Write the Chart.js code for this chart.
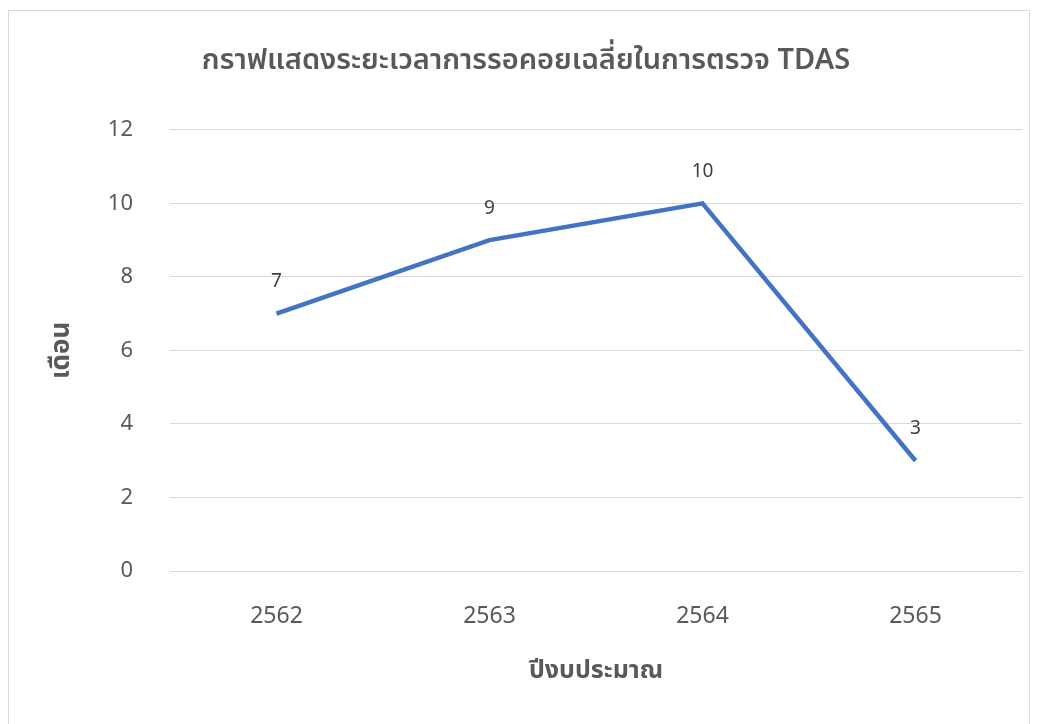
<!DOCTYPE html>
<html>
<head>
<meta charset="utf-8">
<script src="https://cdn.jsdelivr.net/npm/chart.js@4/dist/chart.umd.min.js"></script>
<style>
  html, body { margin: 0; padding: 0; background: #fff; }
  #wrap { position: relative; width: 1037px; height: 724px; }
</style>
</head>
<body>
<div id="wrap"><canvas id="waitChart" width="1037" height="724"></canvas></div>
<script>
// ข้อมูลกราฟ
const years = ['2562', '2563', '2564', '2565'];
const waitMonths = [7, 9, 10, 3];
const yTicks = [0, 2, 4, 6, 8, 10, 12];

const chartTitle = 'กราฟแสดงระยะเวลาการรอคอยเฉลี่ยในการตรวจ TDAS';
const xTitle = 'ปีงบประมาณ';
const yTitle = 'เดือน';

const fontFamily = '"Segoe UI", "Noto Sans", "Noto Sans Thai", Tahoma, sans-serif';

// กรอบรอบกราฟ
const frameBorder = {
    id: 'frameBorder',
    beforeDraw(chart) {
        const ctx = chart.ctx;
        ctx.save();
        ctx.fillStyle = '#ffffff';
        ctx.fillRect(0, 0, chart.width, chart.height);
        ctx.strokeStyle = '#d9d9d9';
        ctx.lineWidth = 1;
        ctx.strokeRect(8.5, 10.5, 1021, 730);
        ctx.restore();
    }
};

// ป้ายค่าเหนือจุดข้อมูล
const pointLabels = {
    id: 'pointLabels',
    afterDatasetsDraw(chart) {
        const ctx = chart.ctx;
        const meta = chart.getDatasetMeta(0);
        ctx.save();
        ctx.font = '19px ' + fontFamily;
        ctx.fillStyle = '#404040';
        ctx.textAlign = 'center';
        ctx.textBaseline = 'middle';
        meta.data.forEach(function(pt, i) {
            ctx.fillText(String(waitMonths[i]), pt.x, pt.y - 32);
        });
        ctx.restore();
    }
};

new Chart(document.getElementById('waitChart'), {
    type: 'line',
    data: {
        labels: years,
        datasets: [{
            data: waitMonths,
            borderColor: '#4472C4',
            borderWidth: 4.5,
            pointRadius: 0,
            pointHoverRadius: 0,
            tension: 0,
            fill: false
        }]
    },
    options: {
        responsive: false,
        animation: false,
        layout: {
            padding: { left: 30, right: 15, top: 10, bottom: 0 }
        },
        plugins: {
            legend: { display: false },
            tooltip: { enabled: false },
            title: {
                display: true,
                text: chartTitle,
                color: '#595959',
                font: { family: fontFamily, size: 29, weight: '600' },
                padding: { top: 33, bottom: 52 }
            }
        },
        scales: {
            x: {
                offset: true,
                grid: { display: false, drawTicks: false },
                border: { display: false },
                ticks: {
                    color: '#595959',
                    font: { family: fontFamily, size: 23 },
                    padding: 32,
                    maxRotation: 0
                },
                title: {
                    display: true,
                    text: xTitle,
                    color: '#595959',
                    font: { family: fontFamily, size: 25, weight: 'bold' },
                    padding: { top: 0, bottom: 38 }
                },
                afterFit(scale) { scale.height = 153; }
            },
            y: {
                min: 0,
                max: 12,
                afterBuildTicks(scale) {
                    scale.ticks = yTicks.map(v => ({ value: v }));
                },
                grid: { color: '#d9d9d9', lineWidth: 1, drawTicks: false },
                border: { display: false },
                ticks: {
                    color: '#595959',
                    font: { family: fontFamily, size: 22 },
                    padding: 37
                },
                title: {
                    display: true,
                    text: yTitle,
                    color: '#595959',
                    font: { family: fontFamily, size: 26, weight: 'bold' },
                    padding: { top: 16, bottom: 0 }
                },
                afterFit(scale) { scale.width = 140; }
            }
        }
    },
    plugins: [frameBorder, pointLabels]
});
</script>
</body>
</html>
